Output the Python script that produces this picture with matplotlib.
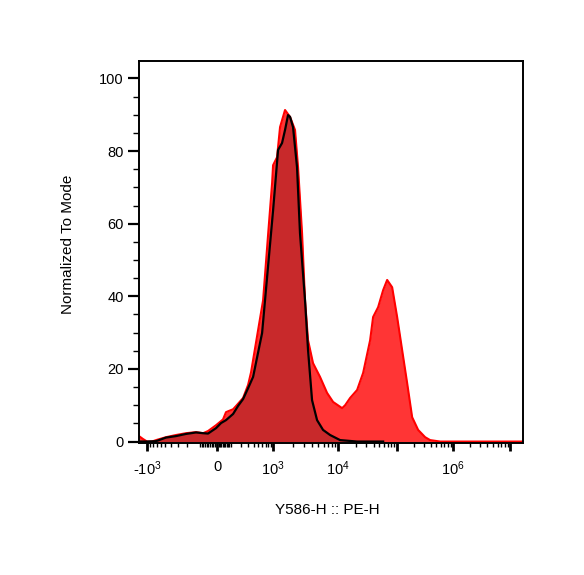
import numpy as np
import matplotlib.pyplot as plt
from matplotlib.ticker import FixedLocator, FixedFormatter, NullFormatter

plt.rcParams['font.family'] = ['Liberation Sans', 'DejaVu Sans']
plt.rcParams['mathtext.fontset'] = 'custom'
plt.rcParams['mathtext.rm'] = 'Liberation Sans'
plt.rcParams['mathtext.it'] = 'Liberation Sans:italic'
plt.rcParams['mathtext.bf'] = 'Liberation Sans:bold'

# sample histogram (red), x in fluorescence units, y in % of mode
sample_x = [-1350, -1163, -1000, -829, -713, -486, -327, -213, -129, -81, -51, -5.6,
            42, 64, 122, 150, 228, 298, 347, 467, 624, 790, 955, 1000, 1152, 1282,
            1530, 1828, 2180, 2425, 2795, 3105, 3455, 4120, 5280, 6770, 8380, 11690,
            13150, 15960, 20990, 26540, 34860, 39170, 47640, 57940, 67740, 82280,
            100000, 122800, 150900, 185400, 237200, 316200, 388100, 586100, 883500,
            16777216]
sample_y = [1.5, 0.7, 0.0, 0.0, 0.4, 1.2, 1.8, 2.3, 2.6, 2.3, 2.9, 4.5,
            6.1, 8.1, 8.9, 9.8, 12.0, 15.6, 19.1, 29.0, 38.9, 56.9, 71.2, 76.1, 78.3, 86.6,
            91.3, 89.4, 85.8, 75.6, 57.4, 38.9, 27.9, 21.6, 17.8, 13.4, 10.9, 9.2,
            10.0, 12.0, 14.2, 18.9, 27.9, 34.3, 37.0, 41.7, 44.5, 42.5,
            34.3, 25.2, 16.1, 6.7, 3.2, 1.2, 0.4, 0.0, 0.0,
            0.0]

# control histogram (dark red with black outline)
control_x = [-1350, -1039, -713, -486, -327, -213, -129, -81, -51, -5.6,
             28, 64, 122, 170, 228, 298, 384, 595, 790, 1000, 1194, 1375, 1530, 1701,
             1828, 2032, 2339, 2600, 3105, 3455, 3981, 4753, 5875, 7535, 10810,
             20990, 57940]
control_y = [0.0, 0.0, 0.1, 1.1, 1.5, 2.1, 2.5, 2.3, 2.2, 3.7,
             5.1, 5.9, 7.6, 9.8, 11.7, 14.7, 17.8, 29.9, 48.3, 63.7, 80.3, 82.2, 85.8, 89.9,
             89.4, 86.6, 75.6, 57.4, 38.9, 25.2, 11.4, 5.9, 3.2, 1.8, 0.4,
             0.0, 0.0]

major_ticks = [-1e3, 0, 1e3, 1e4, 1e5, 1e6, 1e7]
major_labels = [r'-$\mathregular{10^3}$', '0', r'$\mathregular{10^3}$', r'$\mathregular{10^4}$',
                '', r'$\mathregular{10^6}$', '']
minor_ticks = ([-k * 100 for k in range(1, 10)] + [-k * 10 for k in range(1, 10)]
               + [k * 10 for k in range(1, 10)] + [k * 100 for k in range(1, 10)]
               + [k * 10 ** d for d in range(3, 7) for k in range(2, 10)])

# biexponential-like display: asinh, stretched piecewise to FlowJo's decade widths
C = 150.0
anchor_data = np.array([-1e4, -1e3, 0, 1e3, 1e4, 1e5, 1e6, 1e7, 1e8])
anchor_disp = np.array([-132, -70, 0, 56, 121, 180, 236, 293, 350], dtype=float)
anchor_u = np.arcsinh(anchor_data / C)


def fwd(x):
    return np.interp(np.arcsinh(np.asarray(x, dtype=float) / C), anchor_u, anchor_disp)


def inv(d):
    return C * np.sinh(np.interp(np.asarray(d, dtype=float), anchor_disp, anchor_u))


fig = plt.figure(figsize=(5.84, 5.75), dpi=100)
ax = fig.add_axes([139 / 584, 132 / 575, 384 / 584, 382 / 575])
ax.set_xscale('function', functions=(fwd, inv))

ax.fill_between(sample_x, sample_y, color='#FF3535', lw=0)
ax.plot(sample_x, sample_y, color='#FF0000', lw=1.5)
ax.fill_between(control_x, control_y, color='#C8292B', lw=0)
ax.plot(control_x, control_y, color='black', lw=1.6)

ax.set_xlim(-1350, 2 ** 24)
ax.set_ylim(-0.4, 104.8)

ax.xaxis.set_major_locator(FixedLocator(major_ticks))
ax.xaxis.set_major_formatter(FixedFormatter(major_labels))
ax.xaxis.set_minor_locator(FixedLocator(minor_ticks))
ax.xaxis.set_minor_formatter(NullFormatter())
ax.set_yticks(range(0, 101, 20))
ax.set_yticks(range(0, 101, 5), minor=True)

ax.tick_params(axis='x', which='major', direction='out', length=6, width=2, labelsize=10.5, pad=6)
ax.tick_params(axis='x', which='minor', direction='out', length=3, width=1)
ax.tick_params(axis='y', which='major', direction='out', length=8, width=1.6, labelsize=10.5, pad=3)
ax.tick_params(axis='y', which='minor', direction='out', length=4, width=1)
for s in ax.spines.values():
    s.set_linewidth(1.4)

ax.set_xlabel('Y586-H :: PE-H', fontsize=11)
ax.set_ylabel('Normalized To Mode', fontsize=11)
ax.xaxis.set_label_coords(0.49, -0.175)
ax.xaxis.label.set_va('center')
ax.yaxis.set_label_coords(-0.185, 0.52)
ax.yaxis.label.set_va('center')

fig.savefig('out.png', dpi=100)
